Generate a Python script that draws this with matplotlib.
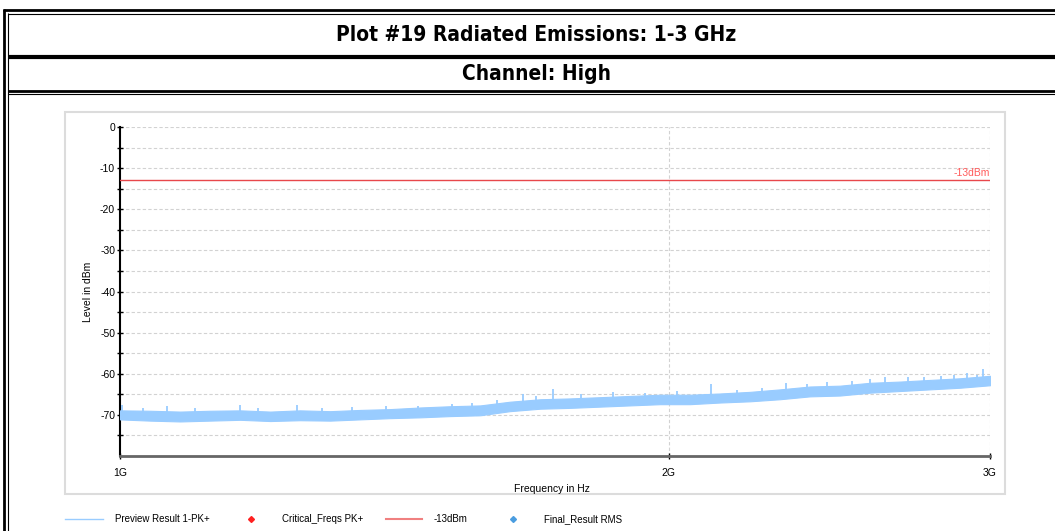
"""
Radiated emissions sweep, 1-3 GHz, high channel, against the -13 dBm limit.
"""

import numpy as np
import matplotlib
matplotlib.use('Agg')
import matplotlib.pyplot as plt
import matplotlib.ticker as mticker
from matplotlib.lines import Line2D
from matplotlib.patches import Rectangle

W, H = 1055, 531
DPI = 100

plt.rcParams['font.family'] = ['Liberation Sans', 'DejaVu Sans']
plt.rcParams['axes.unicode_minus'] = False

TITLE = 'Plot #19 Radiated Emissions: 1-3 GHz'
SUBTITLE = 'Channel: High'
LIMIT_DBM = -13

# Preview Result 1-PK+ : envelope of the peak trace (MHz, dBm)
freq_mhz = [1000, 1039, 1079, 1120, 1164, 1209, 1255, 1304, 1354, 1406,
            1461, 1517, 1576, 1636, 1700, 1765, 1833, 1904, 1978, 2054,
            2133, 2216, 2301, 2390, 2482, 2578, 2678, 2781, 2889, 3000]
trace_hi = [-68.9, -69.0, -69.2, -69.0, -68.9, -69.2, -68.9, -69.1, -68.8, -68.6,
            -68.2, -67.9, -67.7, -66.8, -66.2, -66.0, -65.7, -65.4, -65.1, -65.1,
            -64.8, -64.4, -63.8, -63.1, -62.9, -62.2, -61.9, -61.5, -61.1, -60.5]
trace_lo = [-71.1, -71.4, -71.6, -71.4, -71.2, -71.5, -71.3, -71.4, -71.1, -70.8,
            -70.6, -70.3, -70.1, -69.1, -68.5, -68.3, -68.0, -67.7, -67.4, -67.4,
            -67.0, -66.7, -66.2, -65.5, -65.3, -64.6, -64.2, -63.8, -63.4, -62.8]

# isolated peaks sticking out of the trace (MHz, dBm)
spike_mhz = [1003, 1030, 1061, 1100, 1164, 1190, 1250, 1290, 1340, 1400,
             1457, 1521, 1560, 1610, 1663, 1690, 1727, 1790, 1864, 1940,
             2020, 2109, 2180, 2250, 2319, 2380, 2441, 2520, 2578, 2626,
             2705, 2760, 2820, 2867, 2915, 2950, 2974]
spike_dbm = [-67.6, -68.3, -67.9, -68.4, -67.5, -68.3, -67.7, -68.4, -68.1, -67.9,
             -67.9, -67.4, -67.0, -66.3, -64.9, -65.4, -63.7, -65.0, -64.4, -64.6,
             -64.3, -62.5, -63.9, -63.4, -62.2, -62.5, -62.0, -61.7, -61.3, -60.9,
             -60.8, -60.9, -60.6, -60.3, -59.8, -60.2, -58.8]

TRACE_C = '#99ccff'
LIMIT_C = '#e8474b'
NARROW = dict(fontweight='bold', family=['Liberation Sans Narrow', 'DejaVu Sans'],
              fontstretch='condensed')


def fx(px):
    return px / W


def fy(py):
    return 1 - py / H


fig = plt.figure(figsize=(W / DPI, H / DPI), dpi=DPI)

# report table frame
def hline(y, x0, x1, lw):
    fig.add_artist(Line2D([fx(x0), fx(x1)], [fy(y), fy(y)], color='black', lw=lw,
                          solid_capstyle='butt'))


def vline(x, y0, y1, lw):
    fig.add_artist(Line2D([fx(x), fx(x)], [fy(y0), fy(y1)], color='black', lw=lw,
                          solid_capstyle='butt'))


hline(10, 3, W, 2.0)
hline(13.5, 7.5, W, 0.8)
vline(4, 9, H, 2.0)
vline(8, 13, H, 0.8)
hline(57, 8, W, 3.0)
hline(90.5, 8, W, 2.0)
hline(94, 8, W, 0.8)

fig.text(fx(536), fy(35), TITLE, ha='center', va='center', fontsize=15, **NARROW)
fig.text(fx(536), fy(74), SUBTITLE, ha='center', va='center', fontsize=15, **NARROW)

# light frame around the chart
fig.add_artist(Rectangle((fx(65), fy(494)), fx(1005) - fx(65), fy(112) - fy(494),
                         fill=False, ec='#dcdcdc', lw=1.5))

ax = fig.add_axes([fx(120), fy(456), fx(990) - fx(120), fy(127) - fy(456)])
f_hz = np.array(freq_mhz) * 1e6
ax.fill_between(f_hz, trace_lo, trace_hi, color=TRACE_C, lw=0.8, ec=TRACE_C, zorder=3)
ax.vlines(np.array(spike_mhz) * 1e6, np.interp(spike_mhz, freq_mhz, trace_lo),
          spike_dbm, color=TRACE_C, lw=1.3, zorder=3)
ax.axhline(LIMIT_DBM, color=LIMIT_C, lw=1.0, zorder=4)
ax.text(3e9, LIMIT_DBM + 0.6, '-13dBm', ha='right', va='bottom', fontsize=7.5,
        color='#ff5a5a')

ax.set_xscale('log')
ax.set_xlim(1e9, 3e9)
ax.set_ylim(-80, 0)
ax.xaxis.set_major_locator(mticker.FixedLocator([1e9, 2e9, 3e9]))
ax.xaxis.set_major_formatter(mticker.FixedFormatter(['1G', '2G', '3G']))
ax.xaxis.set_minor_locator(mticker.NullLocator())
ax.yaxis.set_major_locator(mticker.FixedLocator(range(0, -71, -10)))
ax.yaxis.set_minor_locator(mticker.FixedLocator(range(-5, -80, -10)))

for v in range(0, -80, -5):
    ax.axhline(v, color='#d2d2d2', lw=0.8, ls=(0, (3, 2)), zorder=1)
for v in (2e9, 3e9):
    ax.axvline(v, color='#d2d2d2', lw=0.8, ls=(0, (3, 2)), zorder=1)

ax.spines['top'].set_visible(False)
ax.spines['right'].set_visible(False)
ax.spines['left'].set_color('black')
ax.spines['left'].set_linewidth(1.5)
ax.spines['bottom'].set_color('#666666')
ax.spines['bottom'].set_linewidth(2.0)
ax.tick_params(axis='y', which='both', direction='inout', length=5, width=1,
               labelsize=7.5, pad=1)
ax.tick_params(axis='x', which='both', direction='inout', length=5, width=1,
               labelsize=7.5, pad=6, color='black')

fig.text(fx(88), fy(292), 'Level in dBm', rotation=90, ha='center', va='center',
         fontsize=7.5)
fig.text(fx(552), fy(489), 'Frequency in Hz', ha='center', va='center', fontsize=7.5)

# legend row
ly = fy(519)
fig.add_artist(Line2D([fx(65), fx(103)], [ly, ly], color=TRACE_C, lw=1))
fig.text(fx(115), ly, 'Preview Result 1-PK+', va='center', fontsize=7)
fig.add_artist(Line2D([fx(251)], [ly], marker='D', ms=3, color='#ff2020', lw=0))
fig.text(fx(282), ly, 'Critical_Freqs PK+', va='center', fontsize=7)
fig.add_artist(Line2D([fx(386), fx(422)], [ly, ly], color='#f08080', lw=1.5))
fig.text(fx(434), ly, '-13dBm', va='center', fontsize=7)
fig.add_artist(Line2D([fx(513)], [ly], marker='D', ms=3, color='#4a9de0', lw=0))
fig.text(fx(544), ly, 'Final_Result RMS', va='center', fontsize=7)

fig.savefig('out.png', dpi=DPI)
